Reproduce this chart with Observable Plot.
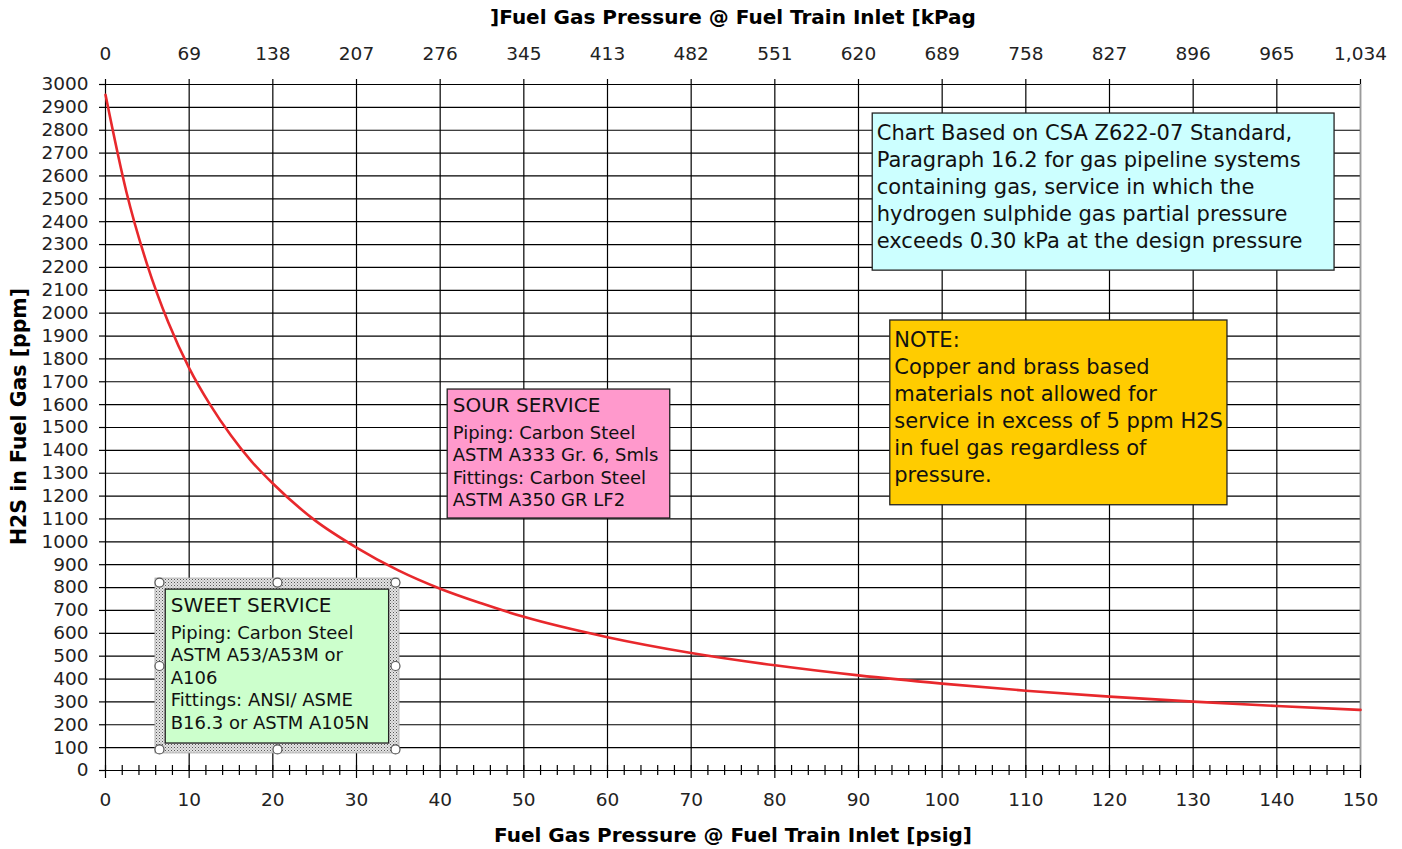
<!DOCTYPE html>
<html>
<head>
<meta charset="utf-8">
<script src="https://cdn.jsdelivr.net/npm/d3@7"></script>
<script src="https://cdn.jsdelivr.net/npm/@observablehq/plot@0.6"></script>
<style>
  html, body { margin: 0; padding: 0; background: #fff; }
  #chart svg { display: block; }
</style>
</head>
<body>
<div id="chart"></div>
<script>
// ---- data ----
const psig = [0, 2.5, 5, 7.5, 10, 12.5, 15, 17.5, 20, 25, 30, 35, 40, 45, 50, 60, 70, 80, 90, 100, 110, 120, 130, 140, 150];
const h2sPpm = [2955, 2530, 2210, 1960, 1760, 1600, 1465, 1350, 1255, 1095, 975, 875, 795, 730, 672, 583, 514, 460, 416, 380, 349, 323, 301, 282, 265];

const xTicks = [0, 10, 20, 30, 40, 50, 60, 70, 80, 90, 100, 110, 120, 130, 140, 150];
const xTickLabels = ["0", "10", "20", "30", "40", "50", "60", "70", "80", "90", "100", "110", "120", "130", "140", "150"];
const kpagLabels = ["0", "69", "138", "207", "276", "345", "413", "482", "551", "620", "689", "758", "827", "896", "965", "1,034"];
const xMinor = [2, 4, 6, 8, 12, 14, 16, 18, 22, 24, 26, 28, 32, 34, 36, 38, 42, 44, 46, 48, 52, 54, 56, 58, 62, 64, 66, 68, 72, 74, 76, 78, 82, 84, 86, 88, 92, 94, 96, 98, 102, 104, 106, 108, 112, 114, 116, 118, 122, 124, 126, 128, 132, 134, 136, 138, 142, 144, 146, 148];
const yTicks = [0, 100, 200, 300, 400, 500, 600, 700, 800, 900, 1000, 1100, 1200, 1300, 1400, 1500, 1600, 1700, 1800, 1900, 2000, 2100, 2200, 2300, 2400, 2500, 2600, 2700, 2800, 2900, 3000];

const xTitle = "Fuel Gas Pressure @ Fuel Train Inlet [psig]";
const x2Title = "]Fuel Gas Pressure @ Fuel Train Inlet [kPag";
const yTitle = "H2S in Fuel Gas [ppm]";

// ---- annotation boxes (data coordinates) ----
const boxes = [
  {x1: 91.7, x2: 146.9, y1: 2873, y2: 2186, fill: "#CCFFFF"},
  {x1: 93.8, x2: 134.1, y1: 1968, y2: 1160, fill: "#FFCC00"},
  {x1: 40.9, x2: 67.5, y1: 1666, y2: 1102, fill: "#FF99CC"},
  {x1: 7.2, x2: 33.9, y1: 791, y2: 118, fill: "#CCFFCC"}
];
const bigNotes = [
  {x: 91.7, y: 2873, text: "Chart Based on CSA Z622-07 Standard,\nParagraph 16.2 for gas pipeline systems\ncontaining gas, service in which the\nhydrogen sulphide gas partial pressure\nexceeds 0.30 kPa at the design pressure"},
  {x: 93.8, y: 1968, text: "NOTE:\nCopper and brass based\nmaterials not allowed for\nservice in excess of 5 ppm H2S\nin fuel gas regardless of\npressure."}
];
const serviceTitles = [
  {x: 40.9, y: 1666, text: "SOUR SERVICE"},
  {x: 7.2, y: 791, text: "SWEET SERVICE"}
];
const serviceBodies = [
  {x: 40.9, y: 1666, text: "Piping: Carbon Steel\nASTM A333 Gr. 6, Smls\nFittings: Carbon Steel\nASTM A350 GR LF2"},
  {x: 7.2, y: 791, text: "Piping: Carbon Steel\nASTM A53/A53M or\nA106\nFittings: ANSI/ ASME\nB16.3 or ASTM A105N"}
];
const sel = {x1: 6.45, x2: 34.66, y1: 92, y2: 822};
const selXs = [sel.x1, (sel.x1 + sel.x2) / 2, sel.x2];
const selYs = [sel.y1, (sel.y1 + sel.y2) / 2, sel.y2];
const handles = [];
selXs.forEach((hx, i) => selYs.forEach((hy, j) => { if (!(i === 1 && j === 1)) handles.push({x: hx, y: hy}); }));

const curve = psig.map((p, i) => ({p, v: h2sPpm[i]}));
const FONT = "DejaVu Sans, Verdana, sans-serif";

const defs = () => {
  const g = d3.create("svg:defs");
  const pat = g.append("pattern").attr("id", "dots").attr("width", 3).attr("height", 3).attr("patternUnits", "userSpaceOnUse");
  pat.append("rect").attr("width", 3).attr("height", 3).attr("fill", "#e4e4e4");
  pat.append("rect").attr("x", 0).attr("y", 0).attr("width", 1).attr("height", 1).attr("fill", "#555");
  pat.append("rect").attr("x", 1.5).attr("y", 1.5).attr("width", 1).attr("height", 1).attr("fill", "#888");
  return g.node();
};

const chart = Plot.plot({
  width: 1402,
  height: 849,
  marginLeft: 105,
  marginRight: 42,
  marginTop: 84,
  marginBottom: 79,
  style: {fontFamily: FONT, background: "#fff", color: "#000"},
  x: {domain: [0, 150], axis: null},
  y: {domain: [0, 3000], axis: null},
  marks: [
    defs,
    // grid
    Plot.ruleY(yTicks, {y: d => d, stroke: "#000", strokeWidth: 1.2}),
    Plot.ruleX(xTicks, {x: d => d, stroke: "#000", strokeWidth: 1.2}),
    Plot.ruleX([150], {x: d => d, stroke: "#9a9a9a", strokeWidth: 1.5}),
    // ticks
    Plot.ruleX(xMinor, {x: d => d, y1: 0, y2: 0, insetTop: -5, insetBottom: -5, stroke: "#000", strokeWidth: 1.2}),
    Plot.ruleX(xTicks, {x: d => d, y1: 0, y2: 0, insetTop: -5, insetBottom: -8, stroke: "#000", strokeWidth: 1.2}),
    Plot.ruleX(xTicks, {x: d => d, y1: 3000, y2: 3000, insetTop: -5, insetBottom: 0, stroke: "#000", strokeWidth: 1.2}),
    Plot.ruleY(yTicks, {y: d => d, x1: 0, x2: 0, insetLeft: -6, insetRight: 0, stroke: "#000", strokeWidth: 1.2}),
    // tick labels
    Plot.text(xTicks, {x: d => d, y: 0, dy: 30, text: (d, i) => xTickLabels[i], fontSize: 18.5, fill: "#222"}),
    Plot.text(xTicks, {x: d => d, y: 3000, dy: -30, text: (d, i) => kpagLabels[i], fontSize: 18.5, fill: "#222"}),
    Plot.text(yTicks, {x: 0, y: d => d, dx: -17, textAnchor: "end", text: d => String(d), fontSize: 18.5, fill: "#222"}),
    // titles
    Plot.text([xTitle], {frameAnchor: "bottom", dy: 65, lineAnchor: "middle", textAnchor: "middle", text: d => d, fontSize: 20, fontWeight: "bold", fill: "#000"}),
    Plot.text([x2Title], {frameAnchor: "top", dy: -67, lineAnchor: "middle", textAnchor: "middle", text: d => d, fontSize: 20, fontWeight: "bold", fill: "#000"}),
    Plot.text([yTitle], {frameAnchor: "left", dx: -86, dy: -11, rotate: -90, lineAnchor: "middle", textAnchor: "middle", text: d => d, fontSize: 20.5, fontWeight: "bold", fill: "#000"}),
    // curve
    Plot.line(curve, {x: "p", y: "v", stroke: "#E8282C", strokeWidth: 2.6, curve: "monotone-x"}),
    // selection frame of sweet box
    Plot.rect([sel], {x1: "x1", x2: "x2", y1: "y1", y2: "y2", inset: -4, fill: "url(#dots)", stroke: "#aaa", strokeWidth: 0.8}),
    // boxes
    Plot.rect(boxes, {x1: "x1", x2: "x2", y1: "y1", y2: "y2", fill: d => d.fill, stroke: "#222", strokeWidth: 1.3}),
    Plot.dot(handles, {x: "x", y: "y", r: 4.5, fill: "#fff", stroke: "#555", strokeWidth: 1.2}),
    Plot.text(bigNotes, {x: "x", y: "y", text: "text", dx: 4, dy: 7, textAnchor: "start", lineAnchor: "top", lineHeight: 1.286, fontSize: 21, fill: "#111"}),
    Plot.text(serviceTitles, {x: "x", y: "y", text: "text", dx: 5, dy: 8, textAnchor: "start", lineAnchor: "top", fontSize: 20, fill: "#111"}),
    Plot.text(serviceBodies, {x: "x", y: "y", text: "text", dx: 5, dy: 33, textAnchor: "start", lineAnchor: "top", lineHeight: 1.25, fontSize: 18, fill: "#111"})
  ]
});
document.getElementById("chart").appendChild(chart);
</script>
</body>
</html>
